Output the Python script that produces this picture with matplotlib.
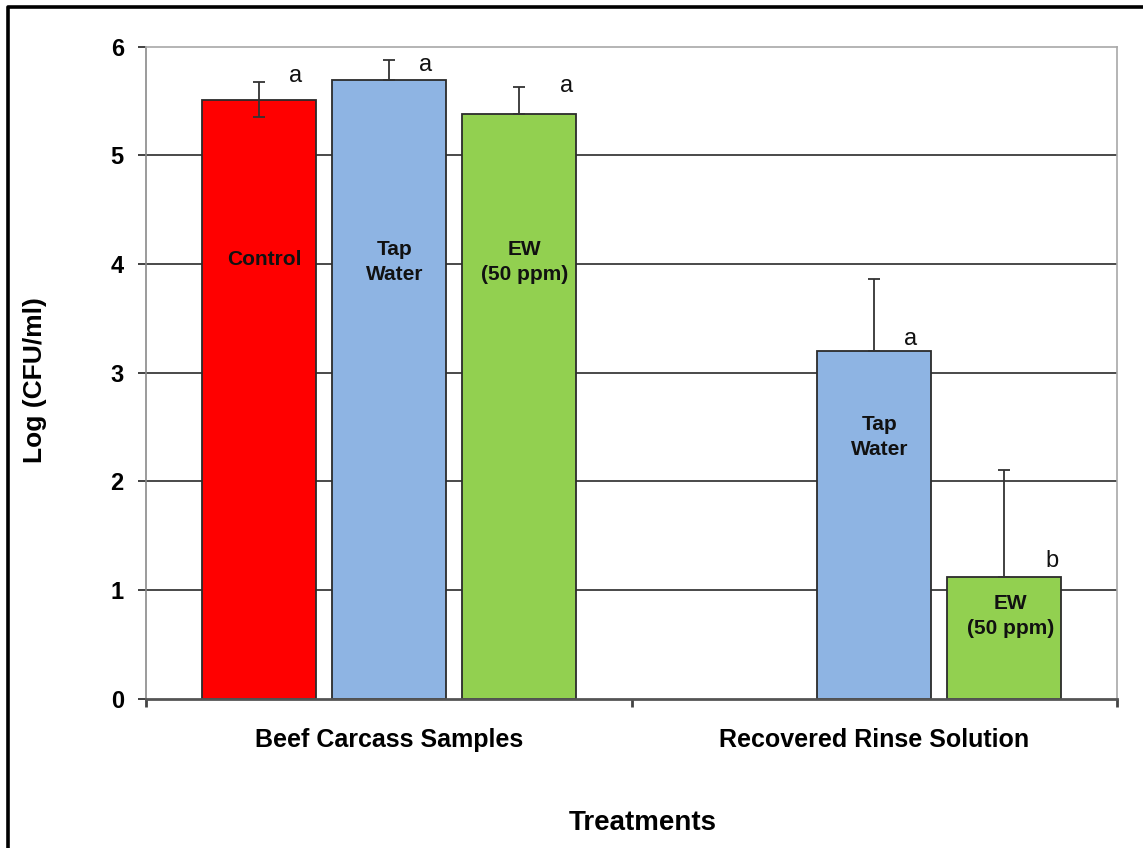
import matplotlib
matplotlib.use("Agg")
import matplotlib.pyplot as plt
from matplotlib.lines import Line2D
import numpy as np

plt.rcParams['font.family'] = ['Liberation Sans', 'DejaVu Sans']

# ---- data ----
groups = ["Beef Carcass Samples", "Recovered Rinse Solution"]
treatments = ["Control", "Tap\nWater", "EW\n(50 ppm)"]
colors = ["#FF0000", "#8EB4E3", "#92D050"]

# mean log counts per treatment within each group (None = not measured)
means = {
    "Control":     [5.51, None],
    "Tap\nWater":  [5.69, 3.20],
    "EW\n(50 ppm)": [5.38, 1.12],
}
# standard deviations (upper, lower)
err_upper = {
    "Control":     [0.16, None],
    "Tap\nWater":  [0.19, 0.66],
    "EW\n(50 ppm)": [0.25, 0.98],
}
err_lower = {
    "Control":     [0.16, None],
    "Tap\nWater":  [0.0, 0.0],
    "EW\n(50 ppm)": [0.0, 0.0],
}
letters = {
    "Control":     ["a", None],
    "Tap\nWater":  ["a", "a"],
    "EW\n(50 ppm)": ["a", "b"],
}

# ---- layout ----
offsets = [-0.268, 0.0, 0.268]
bar_w = 0.235
letter_dx = [0.076, 0.075, 0.098]
letter_dy = {
    "Control":     [0.16, None],
    "Tap\nWater":  [0.08, 0.05],
    "EW\n(50 ppm)": [0.20, 0.09],
}
inner_y = {
    "Control":     [4.04, None],
    "Tap\nWater":  [4.02, 2.41],
    "EW\n(50 ppm)": [4.02, 0.76],
}

fig = plt.figure(figsize=(11.43, 8.48), dpi=100)
ax = fig.add_axes([146 / 1143, 1 - 698.5 / 848, 971 / 1143, 652 / 848])

ax.set_xlim(0, 2)
ax.set_ylim(0, 6)

# horizontal gridlines
for yv in range(1, 6):
    ax.axhline(yv, color="#3a3a3a", lw=1.3, zorder=1)

centers = np.arange(len(groups)) + 0.5
for i, t in enumerate(treatments):
    for g, c in enumerate(centers):
        v = means[t][g]
        if v is None:
            continue
        x = c + offsets[i]
        ax.bar(x, v, width=bar_w, color=colors[i], edgecolor="#2b2b2b",
               linewidth=1.3, zorder=2)
        ax.errorbar(x, v, yerr=[[err_lower[t][g]], [err_upper[t][g]]],
                    fmt="none", ecolor="#333333", elinewidth=1.3,
                    capsize=4.5, capthick=1.3, zorder=3)
        ax.text(x + letter_dx[i], v + letter_dy[t][g], letters[t][g],
                ha="center", va="baseline", fontsize=17, color="#111111",
                zorder=4)
        ax.text(x + 0.012, inner_y[t][g], t, ha="center", va="center",
                fontsize=15, fontweight="bold", color="#111111",
                linespacing=1.4, zorder=4)

# axes styling
for s in ["top", "right"]:
    ax.spines[s].set_color("#a8a8a8")
    ax.spines[s].set_linewidth(1.2)
ax.spines["left"].set_color("#8a8a8a")
ax.spines["left"].set_linewidth(1.2)
ax.spines["bottom"].set_color("#555555")
ax.spines["bottom"].set_linewidth(2.0)

ax.set_yticks(range(0, 7))
ax.set_yticklabels([str(v) for v in range(0, 7)], fontsize=17, fontweight="bold")
ax.tick_params(axis="y", direction="out", length=6, width=1.3, color="#333333",
               pad=10)

ax.set_xticks([0, 1, 2])
ax.set_xticklabels([])
ax.tick_params(axis="x", which="major", direction="out", length=6, width=2,
               color="#444444")
ax.set_xticks(centers, minor=True)
ax.set_xticklabels(groups, minor=True, fontsize=18, fontweight="bold")
ax.tick_params(axis="x", which="minor", length=0, pad=21)

fig.text(35 / 1143, 1 - 380 / 848, "Log (CFU/ml)", rotation=90,
         ha="center", va="center", fontsize=19, fontweight="bold")
fig.text(643 / 1143, 1 - 823 / 848, "Treatments", ha="center", va="center",
         fontsize=20, fontweight="bold")

# outer frame (top and left edges)
fy = 1 - 6.5 / 848
fx = 7.5 / 1143
fig.add_artist(Line2D([fx, fx, 1.01], [-0.01, fy, fy], color="black",
                      lw=2.6, transform=fig.transFigure))

fig.savefig("out.png", dpi=100)
